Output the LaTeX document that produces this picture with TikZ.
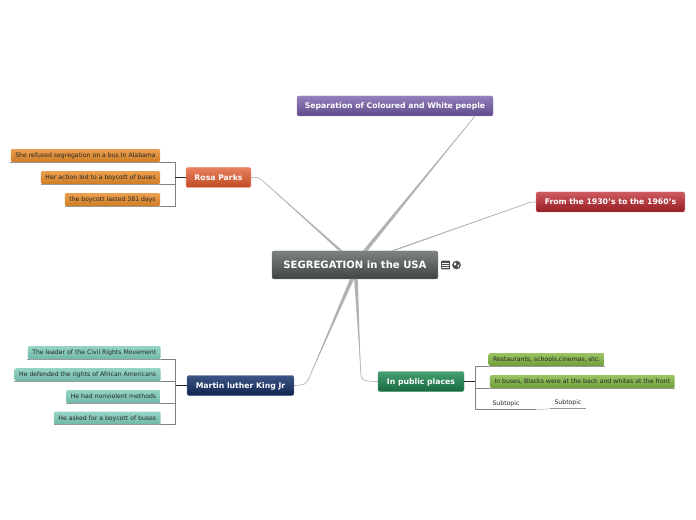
\documentclass[tikz,border=0pt]{standalone}
\usepackage{fontspec}
\setmainfont[Ligatures=NoCommon]{DejaVu Sans}
\usepackage{tikz}
\usetikzlibrary{positioning,calc}

\definecolor{rootA}{HTML}{7D8280}
\definecolor{rootB}{HTML}{3F4443}
\definecolor{sepA}{HTML}{9580BC}
\definecolor{sepB}{HTML}{5F4B8B}
\definecolor{fromA}{HTML}{CF5A60}
\definecolor{fromB}{HTML}{941C22}
\definecolor{rosaA}{HTML}{E9805F}
\definecolor{rosaB}{HTML}{C04B24}
\definecolor{kingA}{HTML}{3D5485}
\definecolor{kingB}{HTML}{10244F}
\definecolor{placeA}{HTML}{45A070}
\definecolor{placeB}{HTML}{17693F}
\definecolor{orangeA}{HTML}{EBA050}
\definecolor{orangeB}{HTML}{D07D25}
\definecolor{tealA}{HTML}{96D4C5}
\definecolor{tealB}{HTML}{70B8A8}
\definecolor{greenA}{HTML}{9CC465}
\definecolor{greenB}{HTML}{6D9F38}

\tikzset{
    topic/.style 2 args={rounded corners=1.5pt,top color=#1,bottom color=#2,draw=#1,line width=0.3pt,
        text=white,font=\bfseries\fontsize{5.8}{6}\selectfont,inner sep=0pt,minimum height=15pt,
        text height=4.4pt,text depth=0.2pt},
    leaf/.style 2 args={rounded corners=1pt,top color=#1,bottom color=#2,draw=none,anchor=east,
        text=black!85,font=\fontsize{4.62}{5}\selectfont,inner xsep=3.4pt,inner ysep=0pt,minimum height=9.6pt,
        text height=3.5pt,text depth=0.1pt},
    plain/.style={text=black!85,font=\fontsize{4.62}{5}\selectfont,inner sep=0pt,minimum height=9pt,
        text height=3.5pt,text depth=0.1pt},
    branch/.style={draw=black!30,line width=0.5pt},
    taper/.style={fill=black!30,draw=none},
    twig/.style={draw=black!50,line width=0.45pt},
    stem/.style={draw=black!85,line width=0.6pt},
    under/.style={draw=black!40,line width=0.45pt}
}

\begin{document}
\begin{tikzpicture}[x=0.75pt,y=-0.75pt]
        \useasboundingbox (0,0) rectangle (696,520);

        \coordinate (P0) at (355,265);
        \coordinate (P1) at (395,106);
        \coordinate (P2) at (610.5,202);
        \coordinate (P3) at (218.5,177.5);
        \coordinate (P4) at (240.5,385.5);
        \coordinate (P5) at (421,381.5);

        \node[topic={rootA}{rootB},minimum width=124.5pt,minimum height=21pt,font=\bfseries\fontsize{7.55}{8}\selectfont,text height=5.6pt,text depth=0.2pt] (root) at (P0) {SEGREGATION in the USA};
        \node[topic={sepA}{sepB},minimum width=147pt] (sep) at (P1) {Separation of Coloured and White people};
        \node[topic={fromA}{fromB},minimum width=111.5pt] (from) at (P2) {From the 1930's to the 1960's};
        \node[topic={rosaA}{rosaB},minimum width=48.5pt] (rosa) at (P3) {Rosa Parks};
        \node[topic={kingA}{kingB},minimum width=80pt] (king) at (P4) {Martin luther King Jr};
        \node[topic={placeA}{placeB},minimum width=64.5pt] (places) at (P5) {In public places};

        %############################################ main branches

        \coordinate (R1) at (365,251);
        \coordinate (R2) at (392,251);
        \coordinate (R3) at (341,251);
        \coordinate (R4) at (352,279);
        \coordinate (R5) at (356,279);

        \coordinate (K1) at (475,116);
        \coordinate (K2) at (524,204.5);
        \coordinate (K3) at (264,182);
        \coordinate (K4) at (309,378);
        \coordinate (K5) at (360.5,368);

        \fill[taper] ([xshift=-1.8pt]R1) -- ([xshift=1.8pt]R1) -- (K1) -- cycle;
        \fill[taper] ([xshift=-1.4pt]R2) -- ([xshift=1.4pt]R2) -- (K2) -- cycle;
        \fill[taper] ([xshift=-1.4pt]R3) -- ([xshift=1.4pt]R3) -- (K3) -- cycle;
        \fill[taper] ([xshift=-1.6pt]R4) -- ([xshift=1.6pt]R4) -- (K4) -- cycle;
        \fill[taper] ([xshift=-1.4pt]R5) -- ([xshift=1.4pt]R5) -- (K5) -- cycle;

        \draw[branch] (R1) -- (K1);
        \draw[branch] (R2) -- (K2) .. controls (530,202) .. (from.west);
        \draw[branch] (R3) -- (K3) .. controls (258,177) .. (rosa.east);
        \draw[branch] (R4) -- (K4) .. controls (305,385) .. (king.east);
        \draw[branch] (R5) -- (K5) .. controls (361,381) .. (places.west);

        %############################################ Rosa Parks

        \coordinate (A) at (160.5,155.5);
        \coordinate (B) at (160.5,177.5);
        \coordinate (C) at (160.5,199.5);
        \coordinate (RB) at (175,177.5);

        \node[leaf={orangeA}{orangeB}] (a1) at (A) {She refused segregation on a bus In Alabama};
        \node[leaf={orangeA}{orangeB}] (a2) at (B) {Her action led to a boycott of buses};
        \node[leaf={orangeA}{orangeB}] (a3) at (C) {the boycott lasted 381 days};

        \draw[under] (a1.south west) -- (a1.south east);
        \draw[under] (a2.south west) -- (a2.south east);
        \draw[under] (a3.south west) -- (a3.south east);
        \draw[twig] (a1.south east) -| (RB);
        \draw[twig] (a2.south east) -| (RB);
        \draw[twig] (a3.south east) -| (RB);
        \draw[stem] (rosa.west) -- (RB);

        %############################################ Martin luther King Jr

        \coordinate (A) at (161,352.5);
        \coordinate (B) at (161,374.5);
        \coordinate (C) at (161,396.5);
        \coordinate (D) at (161,418);
        \coordinate (KB) at (175.5,385.5);

        \node[leaf={tealA}{tealB}] (b1) at (A) {The leader of the Civil Rights Movement};
        \node[leaf={tealA}{tealB}] (b2) at (B) {He defended the rights of African Americans};
        \node[leaf={tealA}{tealB}] (b3) at (C) {He had nonviolent methods};
        \node[leaf={tealA}{tealB}] (b4) at (D) {He asked for a boycott of buses};

        \draw[under] (b1.south west) -- (b1.south east);
        \draw[under] (b2.south west) -- (b2.south east);
        \draw[under] (b3.south west) -- (b3.south east);
        \draw[under] (b4.south west) -- (b4.south east);
        \draw[twig] (b1.south east) -| (KB);
        \draw[twig] (b2.south east) -| (KB);
        \draw[twig] (b3.south east) -| (KB);
        \draw[twig] (b4.south east) -| (KB);
        \draw[stem] (king.west) -- (KB);

        %############################################ In public places

        \coordinate (A) at (605,359.5);
        \coordinate (B) at (675,381.5);
        \coordinate (C) at (506,403.5);
        \coordinate (D) at (568,402.5);
        \coordinate (PB) at (475,381.5);

        \node[leaf={greenA}{greenB}] (c1) at (A) {Restaurants, schools,cinemas, etc.};
        \node[leaf={greenA}{greenB}] (c2) at (B) {In buses, Blacks were at the back and whites at the front};
        \node[plain,minimum width=45pt] (c3) at (C) {Subtopic};
        \node[plain,minimum width=27pt] (c4) at (D) {Subtopic};

        \draw[under] (c1.south west) -- (c1.south east);
        \draw[under] (c2.south west) -- (c2.south east);
        \draw[under] (c4.south west) -- (c4.south east);
        \draw[twig] (c1.south west) -| (PB);
        \draw[twig] (c2.south west) -| (PB);
        \draw[twig] (c3.south east) -- (c3.south west) -| (PB);
        \draw[under,black!25] (c3.south east) -- (c4.south west);
        \draw[stem] (places.east) -- (PB);

        %############################################ icons

        \coordinate (I1) at (445.5,265);
        \coordinate (I2) at (456.5,265);

        \node[draw=none,fill=black!70,rounded corners=0.6pt,minimum size=6.6pt,inner sep=0pt] (note) at (I1) {};
        \node[draw=black!70,fill=black!70,circle,minimum size=6pt,inner sep=0pt] (globe) at (I2) {};
        \draw[white,line width=0.35pt] ($(note.west)+(1.5,-2)$) -- ($(note.east)+(-1.5,-2)$);
        \draw[white,line width=0.35pt] ($(note.west)+(1.5,0)$) -- ($(note.east)+(-1.5,0)$);
        \draw[white,line width=0.35pt] ($(note.west)+(1.5,2)$) -- ($(note.east)+(-1.5,2)$);
        \fill[white] ($(globe.center)+(-2.5,-2)$) -- ($(globe.center)+(-0.2,-2.6)$) -- ($(globe.center)+(-0.5,0)$) -- ($(globe.center)+(-2.5,0.5)$) -- cycle;
        \fill[white] ($(globe.center)+(1,0)$) -- ($(globe.center)+(3,-0.5)$) -- ($(globe.center)+(1.5,2.8)$) -- cycle;
    \end{tikzpicture}
\end{document}
